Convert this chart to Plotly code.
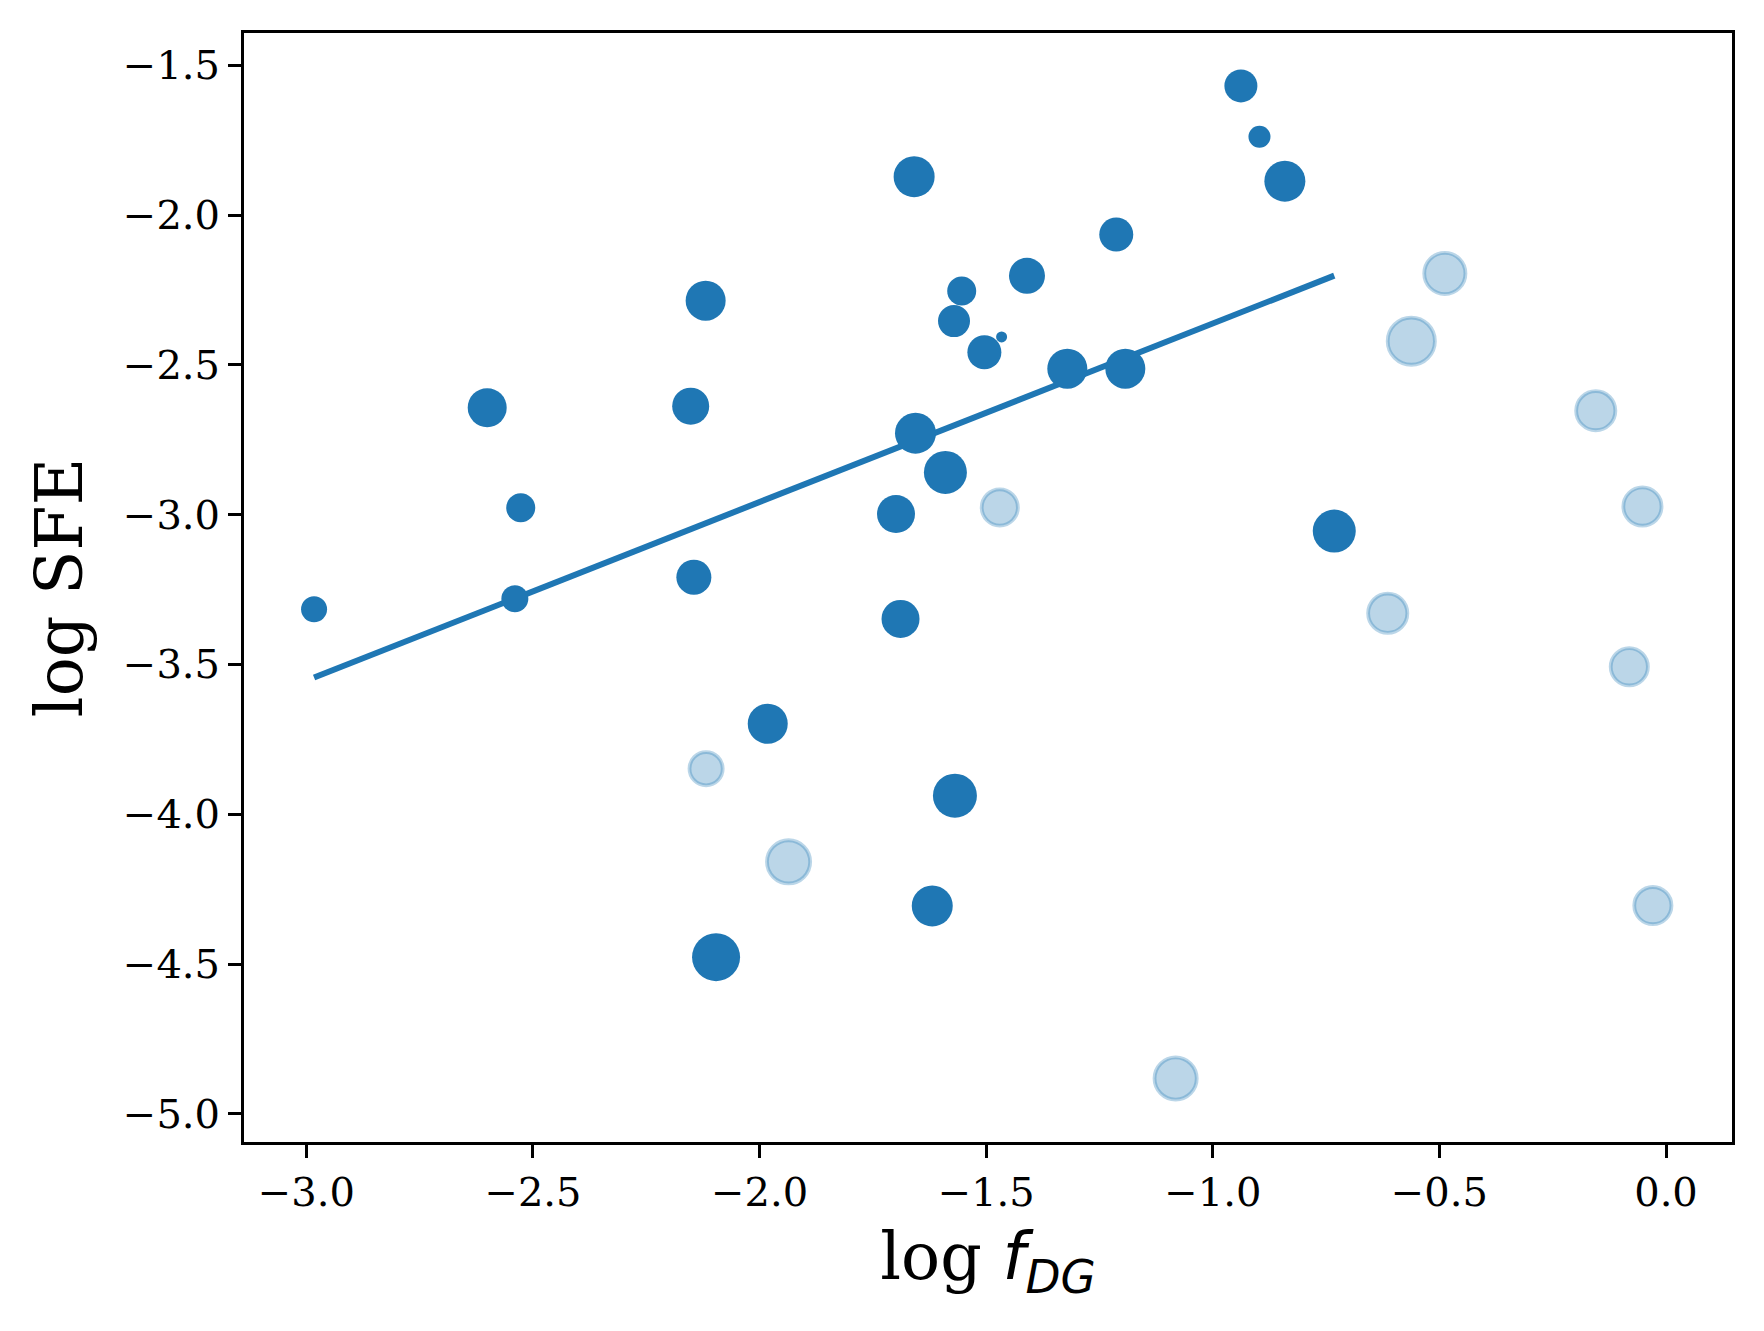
import plotly.graph_objects as go

# main sample (dark points)
dark_x = [-2.983, -2.601, -2.527, -2.540, -2.152, -2.119, -2.145, -1.982, -2.096,
          -1.659, -1.656, -1.590, -1.699, -1.689, -1.569, -1.619, -1.554, -1.571,
          -1.504, -1.466, -1.410, -1.321, -1.213, -1.193, -0.938, -0.897, -0.841,
          -0.732]
dark_y = [-3.316, -2.643, -2.977, -3.281, -2.638, -2.286, -3.209, -3.698, -4.477,
          -1.872, -2.728, -2.859, -2.998, -3.348, -3.938, -4.306, -2.254, -2.354,
          -2.458, -2.407, -2.203, -2.513, -2.065, -2.513, -1.569, -1.739, -1.887,
          -3.055]
dark_size = [26, 39, 29, 27, 37, 40, 35, 40, 48,
             41, 41, 43, 38, 38, 44, 41, 29, 32,
             34, 11, 36, 40, 34, 40, 33, 22, 41,
             43]

# excluded sample (faded points)
light_x = [-2.118, -1.936, -1.470, -1.082, -0.614, -0.562, -0.488, -0.155, -0.052,
           -0.081, -0.029]
light_y = [-3.848, -4.159, -2.976, -4.882, -3.329, -2.421, -2.195, -2.653, -2.973,
           -3.508, -4.305]
light_size = [37, 47, 40, 46, 43, 51, 45, 43, 42, 41, 41]

# linear fit of the main sample
fit_slope = 0.596
fit_intercept = -1.766

x_ticks = [-3.0, -2.5, -2.0, -1.5, -1.0, -0.5, 0.0]
y_ticks = [-5.0, -4.5, -4.0, -3.5, -3.0, -2.5, -2.0, -1.5]

BLUE = "#1f77b4"
EDGE = 3.8

fit_x = [min(dark_x), max(dark_x)]
fit_y = [fit_slope * v + fit_intercept for v in fit_x]

fig = go.Figure()
fig.add_trace(go.Scatter(
    x=fit_x, y=fit_y, mode="lines",
    line=dict(color=BLUE, width=6),
    hoverinfo="skip",
))
fig.add_trace(go.Scatter(
    x=dark_x, y=dark_y, mode="markers",
    marker=dict(color=BLUE, size=dark_size, opacity=1, line=dict(width=0)),
))
fig.add_trace(go.Scatter(
    x=light_x, y=light_y, mode="markers",
    marker=dict(
        color="rgba(31,119,180,0.3)",
        size=[s - EDGE for s in light_size],
        opacity=1,
        line=dict(color="rgba(31,119,180,0.3)", width=EDGE),
    ),
))

axis_style = dict(
    showgrid=False,
    zeroline=False,
    showline=True,
    linecolor="black",
    linewidth=3,
    mirror=True,
    ticks="outside",
    ticklen=13,
    tickwidth=3,
    tickcolor="black",
    tickformat=".1f",
    tickfont=dict(family="DejaVu Serif", size=40, color="black"),
)

# the page body adds an 8px offset, so the figure is 8px smaller
fig.update_layout(
    width=1756,
    height=1323,
    margin=dict(l=236, r=32, t=25, b=189),
    paper_bgcolor="white",
    plot_bgcolor="white",
    showlegend=False,
    font=dict(family="DejaVu Serif", color="black"),
    xaxis=dict(
        axis_style,
        range=[-3.1376, 0.1456],
        tickvals=x_ticks,
        title=dict(
            text="log <span style=\"font-family:'DejaVu Sans'\"><i>f</i><sub><i>DG</i></sub></span>",
            font=dict(family="DejaVu Serif", size=65, color="black"),
            standoff=20,
        ),
    ),
    yaxis=dict(
        axis_style,
        range=[-5.094, -1.3925],
        tickvals=y_ticks,
        title=dict(
            text="log SFE",
            font=dict(family="DejaVu Serif", size=65, color="black"),
            standoff=20,
        ),
    ),
)

fig.write_html("out.html")
